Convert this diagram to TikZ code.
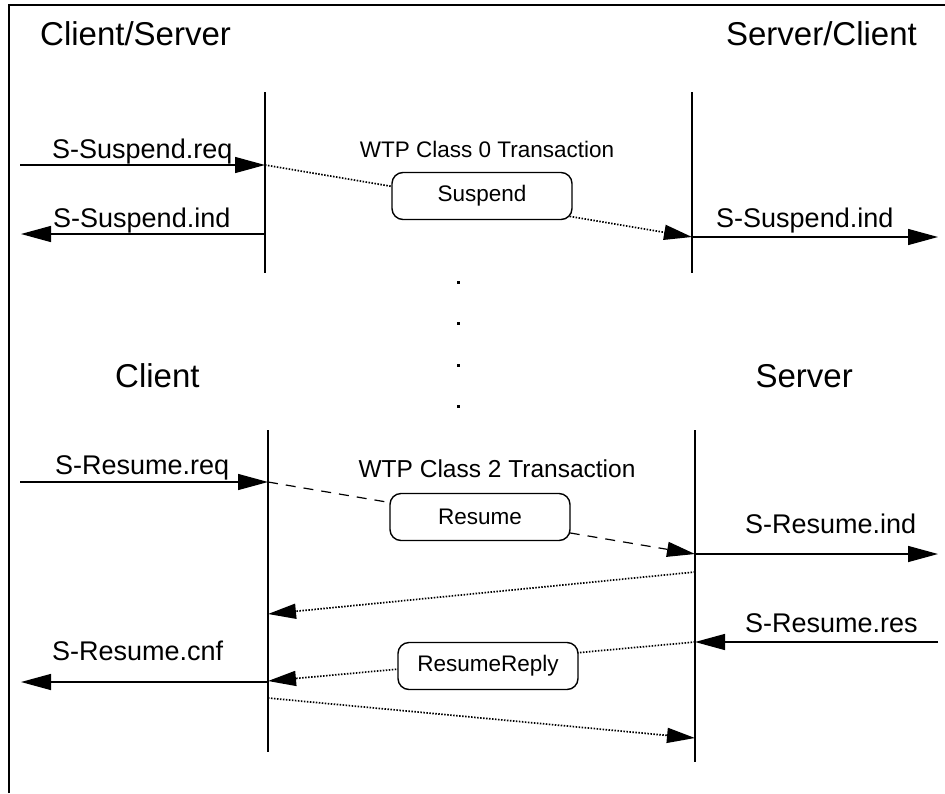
\documentclass[tikz,border=0pt]{standalone}
\usepackage{fontspec}
\setmainfont{Liberation Sans}
\usetikzlibrary{arrows.meta}

\tikzset{
  msg/.style = {line width=1.4pt, -{Triangle[length=30pt,width=16pt]}},
  wtpdot/.style = {line width=1.7pt, dash pattern=on 1.5pt off 1.5pt, -{Triangle[length=28pt,width=15pt]}},
  wtpdash/.style = {line width=1.2pt, dash pattern=on 10pt off 8pt, -{Triangle[length=28pt,width=15pt]}},
  life/.style = {line width=1.4pt},
  pdu/.style = {draw, line width=1.4pt, rounded corners=11pt, fill=white,
                minimum width=180pt, minimum height=47pt, inner sep=0pt,
                font=\fontsize{22.5}{26}\selectfont},
  title/.style = {anchor=base west, inner sep=0pt, font=\fontsize{33}{38}\selectfont},
  titler/.style = {title, anchor=base east},
  lbl/.style = {anchor=base west, inner sep=0pt, font=\fontsize{27}{31}\selectfont},
  trans/.style = {anchor=base, inner sep=0pt}
}

\begin{document}
\begin{tikzpicture}[x=1pt,y=-1pt]
  \useasboundingbox (0,0) rectangle (945,793);
  % frame
  \draw[line width=1.6pt] (9,793) -- (9,5) -- (945,5);

  % Titles
  \node[title] (tcs) at (40,45) {Client/Server};
  \node[titler] (tsc) at (917,45) {Server/Client};
  \node[title] (tc) at (115,387) {Client};
  \node[titler] (ts) at (853,387) {Server};

  % Lifelines
  \coordinate (cs1) at (265,92);  \coordinate (cs2) at (265,273);
  \coordinate (sc1) at (692,92);  \coordinate (sc2) at (692,273);
  \coordinate (c1) at (268,430);  \coordinate (c2) at (268,752);
  \coordinate (s1) at (695,430);  \coordinate (s2) at (695,762);
  \draw[life] (cs1) -- (cs2);
  \draw[life] (sc1) -- (sc2);
  \draw[life] (c1) -- (c2);
  \draw[life] (s1) -- (s2);

  % Suspend
  \coordinate (sreqA) at (20,165);   \coordinate (sreqB) at (265,165);
  \coordinate (sindA) at (265,234);  \coordinate (sindB) at (21,234);
  \coordinate (susB) at (692,237);
  \coordinate (sindC) at (692,237);  \coordinate (sindD) at (938,237);
  \draw[msg] (sreqA) -- (sreqB);
  \draw[msg] (sindA) -- (sindB);
  \draw[msg] (sindC) -- (sindD);
  \draw[wtpdot] (sreqB) -- (susB);
  \node[pdu] (sus) at (482,196) {Suspend};
  \node[lbl] at (52,158) {S-Suspend.req};
  \node[lbl] at (53,227) {S-Suspend.ind};
  \node[lbl] at (716,227) {S-Suspend.ind};
  \node[trans, font=\fontsize{22.5}{26}\selectfont] (w0) at (487,157) {WTP Class 0 Transaction};

  % dots
  \foreach \y in {282,323,365,406}
    \fill (456.5,\y-1.5) rectangle ++(3,3);

  % Resume
  \coordinate (rreqA) at (20,482);   \coordinate (rreqB) at (268,482);
  \coordinate (rsB) at (695,554);
  \coordinate (rindA) at (695,554);  \coordinate (rindB) at (938,554);
  \coordinate (ackA) at (695,572);   \coordinate (ackB) at (268,614);
  \coordinate (rresA) at (938,642);  \coordinate (rresB) at (695,642);
  \coordinate (rrB) at (268,681);
  \coordinate (rcnfA) at (268,682);  \coordinate (rcnfB) at (21,682);
  \coordinate (fin) at (268,698);    \coordinate (finB) at (695,738);
  \draw[msg] (rreqA) -- (rreqB);
  \draw[msg] (rindA) -- (rindB);
  \draw[msg] (rresA) -- (rresB);
  \draw[msg] (rcnfA) -- (rcnfB);
  \draw[wtpdash] (rreqB) -- (rsB);
  \draw[wtpdot] (ackA) -- (ackB);
  \draw[wtpdot] (rresB) -- (rrB);
  \draw[wtpdot] (fin) -- (finB);
  \node[pdu] (res) at (480,517) {Resume};
  \node[pdu] (rep) at (488,666) {ResumeReply};
  \node[lbl] at (55,474) {S-Resume.req};
  \node[lbl] at (745,533) {S-Resume.ind};
  \node[lbl] at (745,632) {S-Resume.res};
  \node[lbl] at (52,660) {S-Resume.cnf};
  \node[trans, font=\fontsize{24.5}{28}\selectfont] (w2) at (497,477) {WTP Class 2 Transaction};
\end{tikzpicture}
\end{document}
